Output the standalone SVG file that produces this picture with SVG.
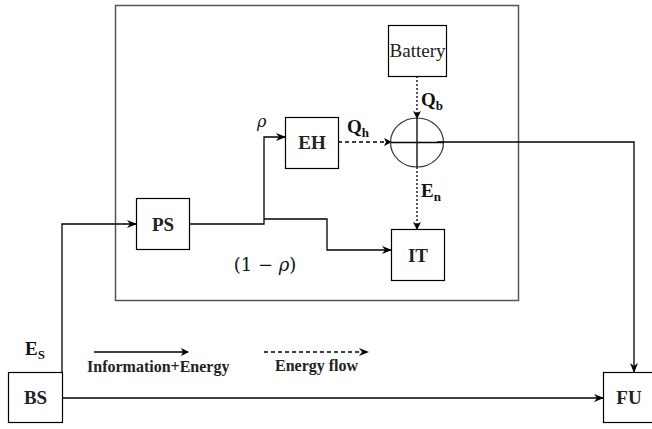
<svg xmlns="http://www.w3.org/2000/svg" width="652" height="429" viewBox="0 0 652 429">
<defs>
<marker id="ah" markerWidth="10" markerHeight="8" refX="9" refY="4" orient="auto" markerUnits="userSpaceOnUse">
<path d="M0,0 L10,4 L0,8 L3,4 Z" fill="#000"/>
</marker>
<marker id="ahs" markerWidth="8" markerHeight="8" refX="7" refY="4" orient="auto" markerUnits="userSpaceOnUse">
<path d="M0,0 L8,4 L0,8 L2,4 Z" fill="#000"/>
</marker>
</defs>
<style>
.box{fill:#fff;stroke:#000;stroke-width:1.2}
.ln{fill:none;stroke:#000;stroke-width:1.3}
.dash{fill:none;stroke:#000;stroke-width:1.3;stroke-dasharray:4,3}
.dot{fill:none;stroke:#000;stroke-width:1.3;stroke-dasharray:2,2}
.lbl{font-family:"Liberation Serif","DejaVu Serif",serif;font-weight:bold;font-size:19px;fill:#222;text-anchor:middle}
.math{font-family:"Liberation Serif","DejaVu Serif",serif;font-weight:bold;font-size:19px;fill:#111}
.leg{font-family:"Liberation Serif","DejaVu Serif",serif;font-weight:bold;font-size:16px;fill:#222}
</style>
<rect x="115.5" y="5.5" width="403" height="295" fill="none" stroke="#555" stroke-width="1.5"/>
<g id="connectors">
<path class="ln" d="M62,372 V224 H136" marker-end="url(#ah)"/>
<path class="ln" d="M190,224 H264 V137 H285" marker-end="url(#ah)"/>
<path class="ln" d="M264,219 H327 V250 H391" marker-end="url(#ah)"/>
<path class="dash" d="M338,142 H391" marker-end="url(#ahs)"/>
<path class="dot" d="M417,76 V118" marker-end="url(#ahs)"/>
<path class="dot" d="M417,167 V229" marker-end="url(#ahs)"/>
<path class="ln" d="M437,142 H634 V372" marker-end="url(#ah)"/>
<path class="ln" d="M62,398 H603" marker-end="url(#ah)"/>
<path class="ln" d="M94,352 H188" marker-end="url(#ahs)"/>
<path class="dash" d="M264,352 H368" marker-end="url(#ah)"/>
</g>
<g id="battery"><rect class="box" x="388.5" y="25.5" width="58" height="51"/><text x="417.5" y="57" font-family="'Liberation Serif',serif" font-size="18" text-anchor="middle" fill="#222" textLength="56" lengthAdjust="spacingAndGlyphs">Battery</text></g>
<g id="eh"><rect class="box" x="285.5" y="117.5" width="53" height="51"/><text class="lbl" x="312" y="149">EH</text></g>
<g id="sum"><ellipse cx="417" cy="142.5" rx="26.5" ry="24.5" fill="none" stroke="#333" stroke-width="1.2"/><path class="ln" d="M391,142.5 H444 M417,118 V167"/></g>
<g id="ps"><rect class="box" x="136.5" y="198.5" width="53" height="51"/><text class="lbl" x="163" y="231">PS</text></g>
<g id="it"><rect class="box" x="391.5" y="229.5" width="53" height="51"/><text class="lbl" x="418" y="262">IT</text></g>
<g id="bs"><rect class="box" x="8.5" y="372.5" width="54" height="50"/><text class="lbl" x="35.5" y="404">BS</text></g>
<g id="fu"><rect class="box" x="603.5" y="372.5" width="54" height="50"/><text class="lbl" x="629" y="404">FU</text></g>
<text x="257" y="127" font-family="'DejaVu Serif',serif" font-style="italic" font-size="16" fill="#111">ρ</text>
<text class="math" x="347" y="133">Q<tspan font-size="13" dy="4">h</tspan></text>
<text class="math" x="421" y="106">Q<tspan font-size="13" dy="4">b</tspan></text>
<text class="math" x="421" y="197">E<tspan font-size="13" dy="4">n</tspan></text>
<text class="math" x="25" y="355">E<tspan font-size="13" dy="4">S</tspan></text>
<text x="265" y="271" font-family="'DejaVu Serif',serif" font-size="18" fill="#111" text-anchor="middle">(1 − <tspan font-style="italic">ρ</tspan>)</text>
<text class="leg" x="87" y="372">Information+Energy</text>
<text class="leg" x="275" y="371">Energy flow</text>
</svg>
